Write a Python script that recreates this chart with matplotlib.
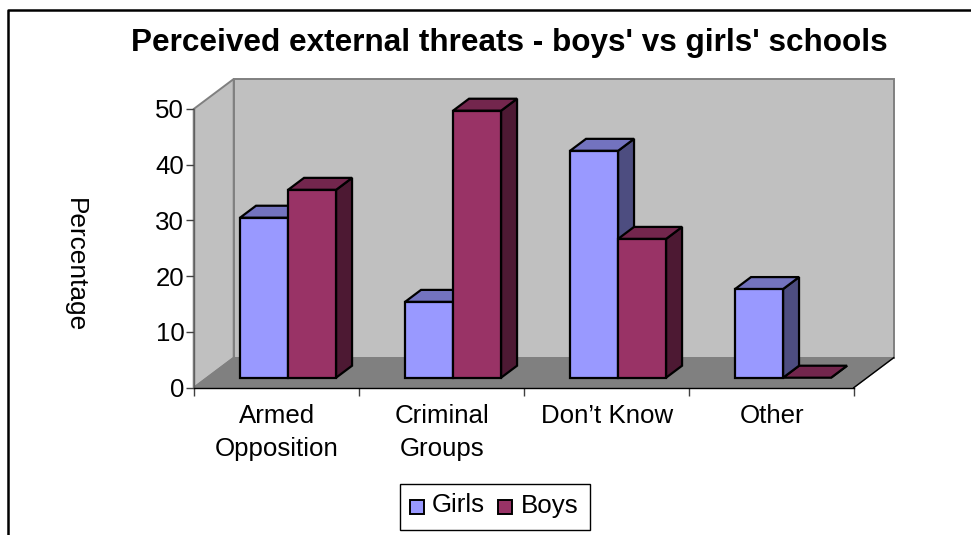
import matplotlib
matplotlib.use("Agg")
import matplotlib.pyplot as plt
from matplotlib.patches import Polygon, Rectangle
from matplotlib.lines import Line2D

categories = ["Armed\nOpposition", "Criminal\nGroups", "Don’t Know", "Other"]
girls = [28.7, 13.6, 40.7, 15.9]
boys = [33.7, 47.9, 24.9, 0.0]
series_names = ["Girls", "Boys"]
y_ticks = [0, 10, 20, 30, 40, 50]

W, H = 971, 535
plt.rcParams["font.family"] = ["Liberation Sans", "DejaVu Sans"]

fig = plt.figure(figsize=(W / 100, H / 100), dpi=100, facecolor="white")
left, right, bottom, top = 193.7, 853.7, 387.7, 109.0
ax = fig.add_axes([left / W, 1 - bottom / H, (right - left) / W, (bottom - top) / H])
ax.set_xlim(0, 4)
ax.set_ylim(0, 50)
ax.patch.set_visible(False)

# oblique projection: depth expressed in data units of the front plane
unit_x = (right - left) / 4
unit_y = (bottom - top) / 50
depth_x = 40 / unit_x
depth_y = 30 / unit_y


def proj(x, y, d):
    return (x + d * depth_x, y + d * depth_y)


def poly(points, **kw):
    p = Polygon(points, closed=True, clip_on=False, **kw)
    ax.add_patch(p)


wall = "#C0C0C0"
edge_grey = "#808080"
poly([proj(0, 0, 0), proj(0, 0, 1), proj(0, 50, 1), proj(0, 50, 0)],
     facecolor=wall, edgecolor=edge_grey, lw=1.4, zorder=1)
poly([proj(0, 0, 1), proj(4, 0, 1), proj(4, 50, 1), proj(0, 50, 1)],
     facecolor=wall, edgecolor=edge_grey, lw=1.4, zorder=1)
poly([proj(0, 0, 0), proj(4, 0, 0), proj(4, 0, 1), proj(0, 0, 1)],
     facecolor=edge_grey, edgecolor=edge_grey, lw=1.0, zorder=2)
ax.plot(*zip(proj(4, 0, 0), proj(4, 0, 1)), color="black", lw=1.0, zorder=2, clip_on=False)
ax.plot(*zip(proj(0, 0, 0), proj(0, 50, 0)), color="#606060", lw=1.0, zorder=2.5, clip_on=False)

d0, d1 = 1 / 3, 0.733
bar_w = 0.291
offset = 0.2
shades = {
    "Girls": ("#9999FF", "#7373BF", "#4D4D80"),
    "Boys": ("#993366", "#73264D", "#4D1933"),
}
z = 3.0


def bar3d(x, value, colors, z):
    front, upper, side = colors
    x2 = x + bar_w
    kw = dict(edgecolor="black", lw=1.6, joinstyle="miter")
    poly([proj(x2, 0, d0), proj(x2, 0, d1), proj(x2, value, d1), proj(x2, value, d0)],
         facecolor=side, zorder=z, **kw)
    poly([proj(x, value, d0), proj(x2, value, d0), proj(x2, value, d1), proj(x, value, d1)],
         facecolor=upper, zorder=z + 0.1, **kw)
    if value > 0:
        poly([proj(x, 0, d0), proj(x2, 0, d0), proj(x2, value, d0), proj(x, value, d0)],
             facecolor=front, zorder=z + 0.2, **kw)


for i in range(len(categories)):
    bar3d(i + offset, girls[i], shades["Girls"], z)
    bar3d(i + offset + bar_w, boys[i], shades["Boys"], z + 1 if boys[i] > 0 else z - 1)
    z += 2

for s in ("top", "right"):
    ax.spines[s].set_visible(False)
ax.spines["left"].set_visible(False)
ax.spines["bottom"].set_color("black")
ax.spines["bottom"].set_linewidth(1.0)
ax.spines["bottom"].set_zorder(2.6)

ax.set_yticks(y_ticks)
ax.set_xticks(range(5))
ax.set_xticklabels([])
ax.tick_params(axis="y", length=6, width=1.0, color="#404040", labelsize=18.6, pad=0.8)
ax.tick_params(axis="x", length=6, width=1.0, color="#404040")
for i, label in enumerate(categories):
    ax.text(i + 0.505, -2.9, label, ha="center", va="top", fontsize=18.6, linespacing=1.5,
            color="black")

fig.text(509.5 / W, 1 - 42.5 / H, "Perceived external threats - boys' vs girls' schools",
         ha="center", va="center", fontsize=22.7, fontweight="bold")
fig.text(75 / W, 1 - 265.5 / H, "Percentage", rotation=-90, ha="center", va="center", fontsize=18.9)

# outer chart frame, cut by the canvas at the bottom
fig.add_artist(Line2D([7.8 / W, 7.8 / W, 1.01], [-0.01, 1 - 10 / H, 1 - 10 / H],
                      color="black", lw=1.8, transform=fig.transFigure))

# legend box with its square keys
fig.add_artist(Rectangle((399.5 / W, 1 - 529.5 / H), 190.5 / W, 46 / H, transform=fig.transFigure,
                         facecolor="white", edgecolor="black", lw=1.0))
for name, kx, tx in zip(series_names, (409.5, 497.5), (432, 520.5)):
    fig.add_artist(Rectangle((kx / W, 1 - 514 / H), 14.5 / W, 14.5 / H, transform=fig.transFigure,
                             facecolor=shades[name][0], edgecolor="black", lw=1.4))
    fig.text(tx / W, 1 - 505.5 / H, name, ha="left", va="center", fontsize=18.6)

fig.savefig("out.png", dpi=100)
